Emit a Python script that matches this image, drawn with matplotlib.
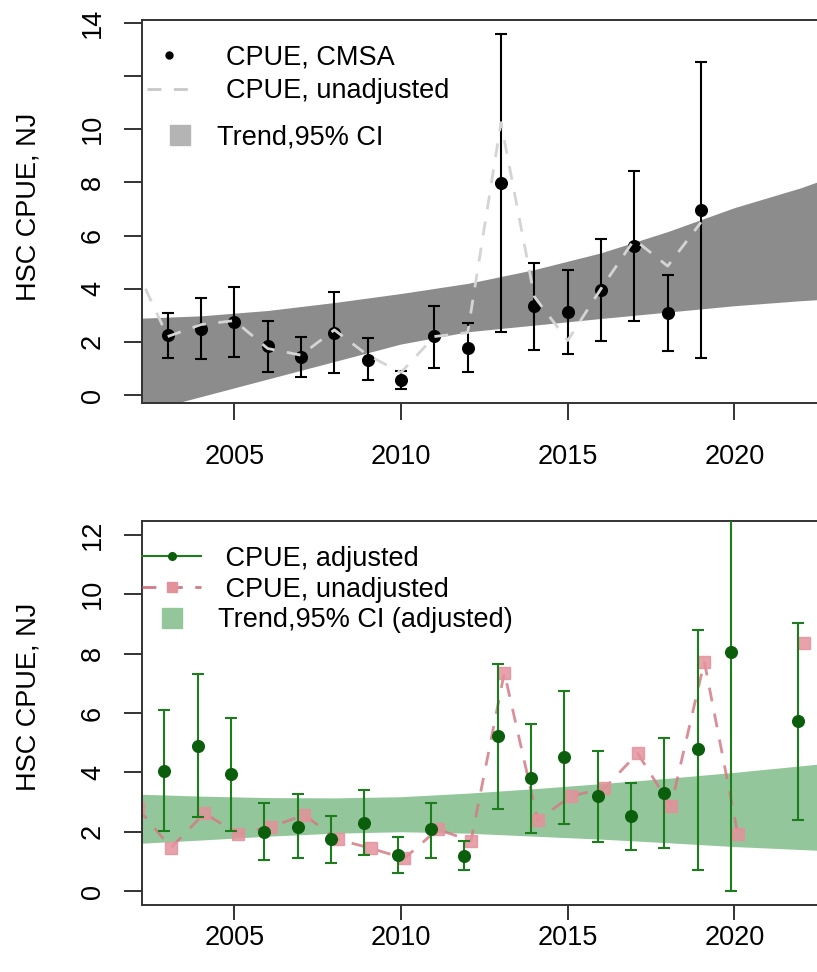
import numpy as np
import matplotlib
matplotlib.use("Agg")
import matplotlib.pyplot as plt
from matplotlib.lines import Line2D

plt.rcParams['font.family'] = ['Liberation Sans', 'DejaVu Sans']
plt.rcParams['font.size'] = 19.5

# --- upper panel: CMSA index with 95% CI ---
cmsa_years = np.arange(2003, 2020)
cmsa = np.array([2.26, 2.48, 2.74, 1.84, 1.43, 2.33, 1.32, 0.56, 2.22, 1.78,
                 7.98, 3.35, 3.13, 3.97, 5.60, 3.10, 6.95])
cmsa_lo = np.array([1.39, 1.35, 1.43, 0.87, 0.68, 0.83, 0.56, 0.21, 1.03, 0.88,
                    2.38, 1.70, 1.54, 2.04, 2.78, 1.66, 1.38])
cmsa_hi = np.array([3.08, 3.65, 4.06, 2.80, 2.18, 3.87, 2.13, 0.91, 3.36, 2.70,
                    13.60, 4.95, 4.72, 5.88, 8.42, 4.53, 12.52])

raw_years = np.arange(2002, 2020)
raw_top = [4.90, 2.20, 2.65, 2.80, 1.75, 1.50, 2.45, 1.50, 0.85, 2.20, 2.35,
           10.25, 3.70, 2.05, 4.00, 5.85, 4.85, 6.50]

# trend bands, read every other year
band_years = np.arange(2002, 2026, 2)
trend_top_lo = [-0.72, -0.06, 0.60, 1.26, 1.92, 2.38, 2.63, 2.88, 3.12, 3.36, 3.55, 3.70]
trend_top_hi = [2.88, 2.98, 3.18, 3.48, 3.82, 4.20, 4.72, 5.35, 6.15, 7.05, 7.80, 8.70]

# --- lower panel: adjusted vs unadjusted ---
adj_years = np.array([2003, 2004, 2005, 2006, 2007, 2008, 2009, 2010, 2011, 2012,
                      2013, 2014, 2015, 2016, 2017, 2018, 2019, 2020, 2022])
adj = np.array([4.05, 4.90, 3.93, 1.98, 2.17, 1.74, 2.30, 1.23, 2.08, 1.19,
                5.22, 3.80, 4.51, 3.20, 2.53, 3.32, 4.78, 8.07, 5.74])
adj_lo = np.array([2.02, 2.48, 2.02, 1.04, 1.10, 0.93, 1.21, 0.61, 1.13, 0.71,
                   2.75, 1.97, 2.26, 1.66, 1.40, 1.44, 0.70, 0.01, 2.39])
adj_hi = np.array([6.10, 7.31, 5.84, 2.96, 3.26, 2.53, 3.40, 1.83, 2.98, 1.70,
                   7.65, 5.62, 6.75, 4.73, 3.63, 5.17, 8.80, 14.50, 9.02])

unadj_years = np.arange(2002, 2023)
unadj = [2.80, 1.46, 2.62, 1.94, 2.17, 2.56, 1.74, 1.44, 1.10, 2.08, 1.69,
         7.36, 2.39, 3.20, 3.46, 4.64, 2.86, 7.73, 1.94, np.nan, 8.35]

trend_bot_lo = [1.60, 1.72, 1.85, 1.95, 2.00, 1.95, 1.85, 1.75, 1.63, 1.50, 1.40, 1.30]
trend_bot_hi = [3.27, 3.20, 3.15, 3.14, 3.18, 3.30, 3.45, 3.62, 3.80, 4.00, 4.22, 4.45]

x_ticks = [2005, 2010, 2015, 2020]
top_yticks = np.arange(0, 15, 2)
top_ylabels = ['0', '2', '4', '6', '8', '10', '', '14']
bot_yticks = np.arange(0, 13, 2)

dash = (0, (5, 4.5))
dark_green = '#0b5e0b'
bar_green = '#1d7d1d'
pink_line = '#d47a86'
pink_sq = '#e3929c'

fig = plt.figure(figsize=(8.17, 9.72), dpi=100)
ax1 = fig.add_axes([0.1738, 0.5854, 0.8462, 0.394])
ax2 = fig.add_axes([0.1738, 0.0689, 0.8462, 0.3954])


def style_axes(ax, yticks, ylabels, ylim, label_y, xpad, xlen):
    ax.set_xlim(2002.23, 2022.97)
    ax.set_ylim(*ylim)
    ax.set_xticks(x_ticks)
    ax.set_yticks(yticks)
    ax.set_yticklabels(ylabels)
    ax.tick_params(axis='both', width=1.4, color='#333333')
    ax.tick_params(axis='x', pad=xpad, length=xlen)
    ax.tick_params(axis='y', pad=13, length=13, labelrotation=90)
    for lab in ax.get_yticklabels():
        lab.set_verticalalignment('center')
    for sp in ax.spines.values():
        sp.set_linewidth(1.4)
        sp.set_color('#333333')
    ax.set_ylabel('HSC CPUE, NJ')
    ax.yaxis.set_label_coords(-0.145, label_y)


# upper panel
ax1.fill_between(band_years, trend_top_lo, trend_top_hi, color='#8c8c8c', lw=0, zorder=1)
ax1.errorbar(cmsa_years, cmsa, yerr=[cmsa - cmsa_lo, cmsa_hi - cmsa], fmt='o',
             color='black', ms=8.4, capsize=4, elinewidth=1.5, capthick=1.5, zorder=2)
ax1.plot(raw_years, raw_top, ls=dash, color='#d4d4d4', lw=2, zorder=4)
style_axes(ax1, top_yticks, top_ylabels, (-0.30, 14.11), 0.513, 17, 12.5)

leg1 = ax1.legend(handles=[Line2D([], [], ls='none', marker='o', ms=5, color='black'),
                           Line2D([], [], ls=dash, lw=2, color='#c8c8c8')],
                  labels=['CPUE, CMSA', 'CPUE, unadjusted'],
                  loc='upper left', bbox_to_anchor=(0.0072, 0.937), frameon=False,
                  borderpad=0, borderaxespad=0, handlelength=1.59,
                  handletextpad=1.33, labelspacing=0.3)
ax1.add_artist(leg1)
ax1.legend(handles=[Line2D([], [], ls='none', marker='s', ms=14, color='#b4b4b4')],
           labels=['Trend,95% CI'], loc='upper left', bbox_to_anchor=(0.039, 0.728),
           frameon=False, borderpad=0, borderaxespad=0, handlelength=0.8,
           handletextpad=0.96)

# lower panel
ax2.fill_between(band_years, trend_bot_lo, trend_bot_hi, color='#93c79b', lw=0, zorder=1)
ax2.plot(unadj_years + 0.1, unadj, ls=dash, lw=2, color=pink_line, alpha=0.85,
         marker='s', ms=8.4, mfc=pink_sq, mec=pink_sq, zorder=2)
ax2.errorbar(adj_years - 0.1, adj, yerr=[adj - adj_lo, adj_hi - adj], fmt='o',
             color=dark_green, ecolor=bar_green, ms=8.4, capsize=4,
             elinewidth=1.5, capthick=1.5, zorder=3)
style_axes(ax2, bot_yticks, [str(v) for v in bot_yticks], (-0.47, 12.48), 0.541, 3.5, 11)

ax2.legend(handles=[Line2D([], [], lw=1.5, color=bar_green, marker='o', ms=5.5, mfc=dark_green, mec=dark_green),
                    Line2D([], [], ls=dash, lw=2, color=pink_line, marker='s', ms=7, mfc=pink_sq, mec=pink_sq),
                    Line2D([], [], ls='none', marker='s', ms=14, color='#93c79b')],
           labels=[' CPUE, adjusted', ' CPUE, unadjusted', 'Trend,95% CI (adjusted)'],
           loc='upper left', bbox_to_anchor=(0.0, 0.935), frameon=False,
           borderpad=0, borderaxespad=0, handlelength=2.18,
           handletextpad=0.63, labelspacing=0.18)

fig.savefig('out.png', dpi=100)
